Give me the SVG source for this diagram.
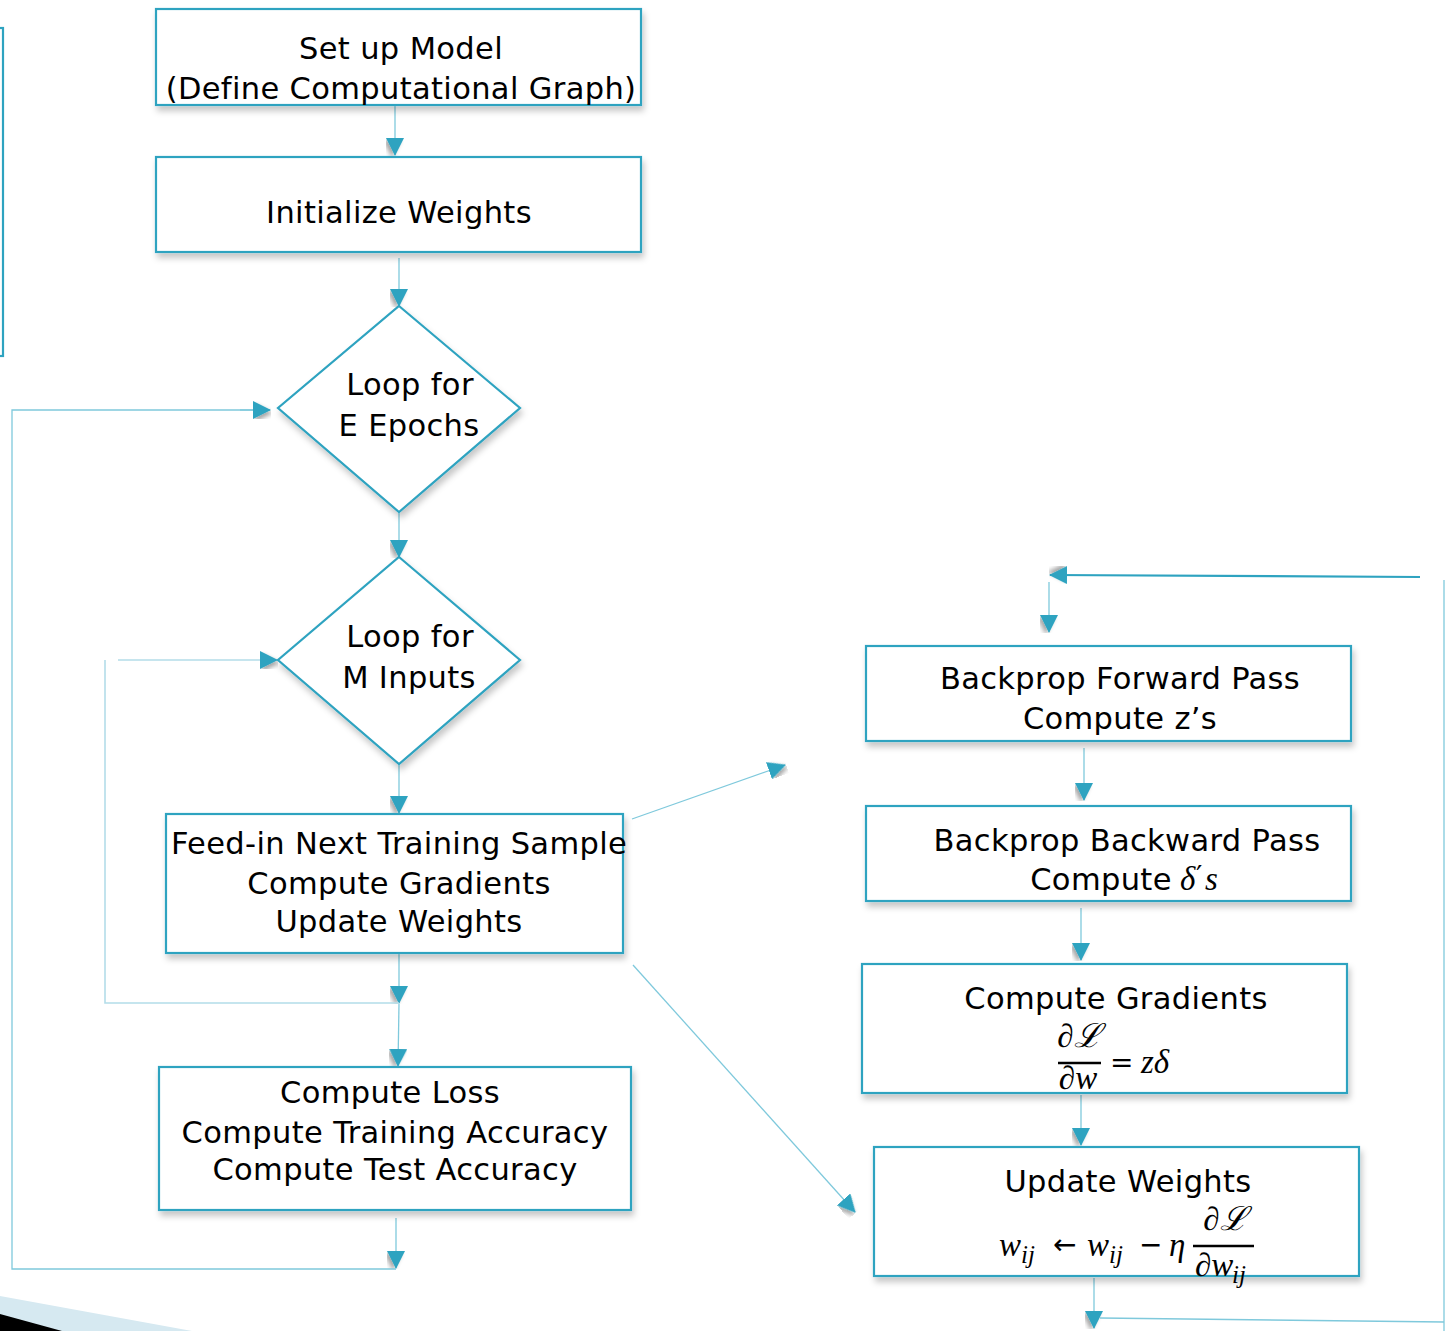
<svg xmlns="http://www.w3.org/2000/svg" width="1447" height="1331" viewBox="0 0 1447 1331">
  <style>
    .box { fill: #ffffff; stroke: #2ea3c0; stroke-width: 2.2; filter: url(#shadow); }
    .lbl { font-family: "DejaVu Sans", "Noto Sans", sans-serif; font-size: 30.5px; letter-spacing: 0.35px; fill: #000; text-anchor: middle; }
    .math { font-family: "Liberation Serif", "DejaVu Serif", serif; font-size: 33px; font-style: italic; fill: #000; }
    .op { font-family: "DejaVu Sans", sans-serif; font-size: 28px; fill: #000; }
    .sub { font-family: "Liberation Serif", "DejaVu Serif", serif; font-size: 25px; font-style: italic; fill: #000; }
    .wire { fill: none; stroke: #7fc9dc; stroke-width: 1.3; }
    .wire-pale { fill: none; stroke: #b3dde9; stroke-width: 1.6; }
    .wire-bold { fill: none; stroke: #2ea3c0; stroke-width: 2.2; }
    .arrow { marker-end: url(#head); }
  </style>
  <defs>
    <filter id="shadow" x="-10%" y="-10%" width="125%" height="135%">
      <feDropShadow dx="2" dy="5" stdDeviation="3" flood-color="#000" flood-opacity="0.22"/>
    </filter>
    <filter id="hshadow" x="-50%" y="-50%" width="250%" height="250%">
      <feDropShadow dx="2" dy="3" stdDeviation="2" flood-color="#000" flood-opacity="0.35"/>
    </filter>
    <marker id="head" viewBox="0 0 18 18" refX="17" refY="9" markerWidth="18" markerHeight="18" markerUnits="userSpaceOnUse" orient="auto">
      <path d="M0,0 L18,9 L0,18 Z" fill="#2ea3c0" filter="url(#hshadow)"/>
    </marker>
  </defs>

  <rect width="1447" height="1331" fill="#ffffff"/>

  <!-- edge of a frame cut off at the left -->
  <rect x="-100" y="28" width="103" height="328" fill="none" stroke="#2ea3c0" stroke-width="2.2"/>

  <!-- corner decoration -->
  <polygon points="0,1296 192,1331 0,1331" fill="#d6e9f1"/>
  <polygon points="0,1314 62,1331 0,1331" fill="#000000"/>

  <g id="connectors">
    <path class="wire arrow" d="M395,106 V155"/>
    <path class="wire arrow" d="M399,258 V306"/>
    <path class="wire arrow" d="M399,513 V557"/>
    <path class="wire arrow" d="M399,765 V813"/>
    <path class="wire arrow" d="M399,954 V1003"/>
    <path class="wire arrow" d="M399,1004 L398,1066"/>
    <!-- inner loop over M inputs -->
    <path class="wire-pale" d="M105,660 V1003 H399"/>
    <path class="wire-pale arrow" d="M118,660 H277"/>
    <!-- outer loop over E epochs -->
    <path class="wire arrow" d="M396,1218 V1268"/>
    <path class="wire" d="M396,1269 H12 V410 H270"/>
    <path class="wire arrow" d="M240,410 H270"/>
    <!-- expansion of the feed-in step -->
    <path class="wire arrow" d="M632,819 L785,765"/>
    <path class="wire arrow" d="M633,965 L855,1212"/>
    <!-- backprop chain -->
    <path class="wire-bold arrow" d="M1420,577 L1050,575"/>
    <path class="wire arrow" d="M1049,582 V632"/>
    <path class="wire arrow" d="M1084,748 V800"/>
    <path class="wire arrow" d="M1081,908 V960"/>
    <path class="wire arrow" d="M1081,1095 V1145"/>
    <path class="wire arrow" d="M1094,1278 V1328"/>
    <path class="wire" d="M1100,1318 L1444,1322"/>
    <path class="wire" d="M1444,580 V1331"/>
  </g>

  <g id="setup-model">
    <rect class="box" x="156" y="9" width="485" height="96"/>
    <text class="lbl" x="401" y="59">Set up Model</text>
    <text class="lbl" x="401" y="99">(Define Computational Graph)</text>
  </g>

  <g id="init-weights">
    <rect class="box" x="156" y="157" width="485" height="95"/>
    <text class="lbl" x="399" y="223">Initialize Weights</text>
  </g>

  <g id="loop-epochs">
    <polygon class="box" points="399,306 520,408 399,512 278,408"/>
    <text class="lbl" x="410" y="395">Loop for</text>
    <text class="lbl" x="409" y="436">E Epochs</text>
  </g>

  <g id="loop-inputs">
    <polygon class="box" points="399,557 520,660 399,764 278,660"/>
    <text class="lbl" x="410" y="647">Loop for</text>
    <text class="lbl" x="409" y="688">M Inputs</text>
  </g>

  <g id="feed-in">
    <rect class="box" x="166" y="814" width="457" height="139"/>
    <text class="lbl" x="399" y="854">Feed-in Next Training Sample</text>
    <text class="lbl" x="399" y="894">Compute Gradients</text>
    <text class="lbl" x="399" y="932">Update Weights</text>
  </g>

  <g id="compute-loss">
    <rect class="box" x="159" y="1067" width="472" height="143"/>
    <text class="lbl" x="390" y="1103">Compute Loss</text>
    <text class="lbl" x="395" y="1143">Compute Training Accuracy</text>
    <text class="lbl" x="395" y="1180">Compute Test Accuracy</text>
  </g>

  <g id="forward-pass">
    <rect class="box" x="866" y="646" width="485" height="95"/>
    <text class="lbl" x="1120" y="689">Backprop Forward Pass</text>
    <text class="lbl" x="1120" y="729">Compute z’s</text>
  </g>

  <g id="backward-pass">
    <rect class="box" x="866" y="806" width="485" height="95"/>
    <text class="lbl" x="1127" y="851">Backprop Backward Pass</text>
    <text class="lbl" x="1101" y="890">Compute</text>
    <text class="math" x="1180" y="890">δ</text>
    <text class="op" x="1196" y="886">′</text>
    <text class="math" x="1205" y="890">s</text>
  </g>

  <g id="compute-gradients">
    <rect class="box" x="862" y="964" width="485" height="129"/>
    <text class="lbl" x="1116" y="1009">Compute Gradients</text>
    <text class="math" x="1079" y="1047" text-anchor="middle">∂ℒ</text>
    <line x1="1058" y1="1063" x2="1101" y2="1063" stroke="#000" stroke-width="2.5"/>
    <text class="math" x="1078" y="1089" text-anchor="middle">∂w</text>
    <text class="op" x="1110" y="1072">=</text>
    <text class="math" x="1141" y="1073">zδ</text>
  </g>

  <g id="update-weights">
    <rect class="box" x="874" y="1147" width="485" height="129"/>
    <text class="lbl" x="1128" y="1192">Update Weights</text>
    <text class="math" x="999" y="1256">w</text>
    <text class="sub" x="1021" y="1263">ij</text>
    <text class="op" x="1053" y="1254">←</text>
    <text class="math" x="1087" y="1256">w</text>
    <text class="sub" x="1109" y="1263">ij</text>
    <text class="op" x="1139" y="1254">−</text>
    <text class="math" x="1169" y="1256">η</text>
    <text class="math" x="1225" y="1230" text-anchor="middle">∂ℒ</text>
    <line x1="1193" y1="1246" x2="1254" y2="1246" stroke="#000" stroke-width="2.5"/>
    <text class="math" x="1195" y="1276">∂w</text>
    <text class="sub" x="1232" y="1283">ij</text>
  </g>
</svg>
